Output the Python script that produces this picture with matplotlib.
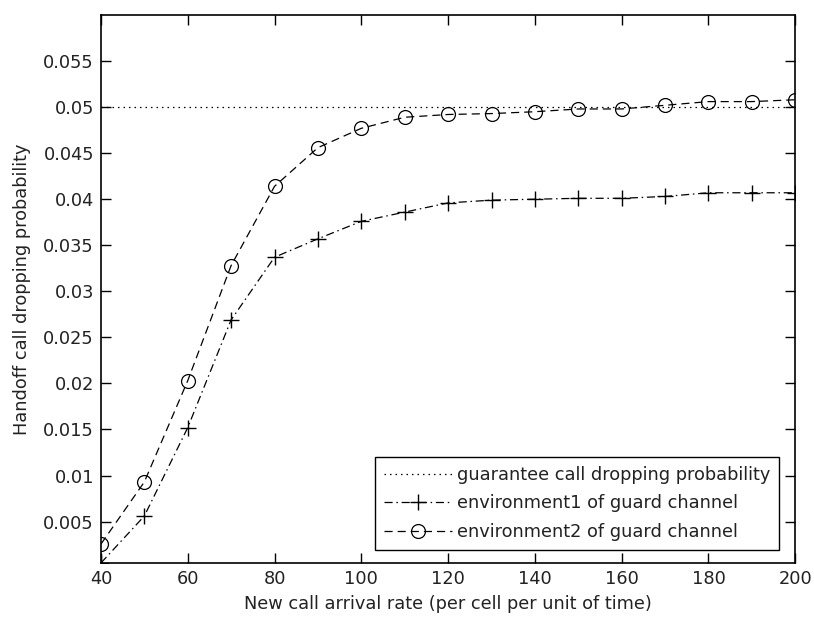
import matplotlib
matplotlib.use("Agg")
import matplotlib.pyplot as plt

plt.rcParams['font.family'] = ['DejaVu Sans']

## values
arrival_rate = [40, 50, 60, 70, 80, 90, 100, 110, 120, 130, 140, 150, 160, 170, 180, 190, 200]
env1 = [0.0005, 0.0056, 0.0152, 0.0269, 0.0337, 0.0357, 0.0376, 0.0386, 0.0396, 0.0399,
        0.0400, 0.0401, 0.0401, 0.0403, 0.0407, 0.0407, 0.0407]
env2 = [0.00255, 0.0093, 0.0203, 0.0328, 0.0414, 0.0456, 0.0477, 0.0489, 0.0492, 0.0493,
        0.0495, 0.0498, 0.0498, 0.0502, 0.0506, 0.0506, 0.0508]
guarantee = 0.05

xticks = [40, 60, 80, 100, 120, 140, 160, 180, 200]
yticks = [0.005, 0.01, 0.015, 0.02, 0.025, 0.03, 0.035, 0.04, 0.045, 0.05, 0.055]

fs = 12.8
txt = '#222222'

fig = plt.figure(figsize=(8.14, 6.21), dpi=100)
ax = fig.add_axes([0.124, 0.0934, 0.853, 0.8824])

ax.plot(arrival_rate, [guarantee]*len(arrival_rate), color='black', lw=0.9,
        dashes=(1.2, 3.2), label='guarantee call dropping probability')
ax.plot(arrival_rate, env1, color='black', lw=0.9, dashes=(6.5, 3, 1.2, 3),
        marker='+', ms=11, mew=1.0, label='environment1 of guard channel')
ax.plot(arrival_rate, env2, color='black', lw=0.9, dashes=(6.5, 4),
        marker='o', ms=10, mew=0.9, mfc='none', label='environment2 of guard channel')

ax.set_xlim(40, 200)
ax.set_ylim(0.0005, 0.06)
ax.set_xticks(xticks)
ax.set_xticklabels([str(t) for t in xticks])
ax.set_yticks(yticks)
ax.set_yticklabels(['%g' % t for t in yticks])
ax.tick_params(direction='in', top=True, right=True, length=7, width=1,
               labelsize=fs, labelcolor=txt, pad=5)
for s in ax.spines.values():
    s.set_linewidth(1.2)

ax.set_xlabel('New call arrival rate (per cell per unit of time)', fontsize=fs, color=txt, labelpad=5)
ax.set_ylabel('Handoff call dropping probability', fontsize=fs, color=txt, labelpad=9)

leg = ax.legend(loc='lower right', bbox_to_anchor=(0.977, 0.0237), borderaxespad=0,
                fontsize=fs, fancybox=False, framealpha=1, edgecolor='black',
                handlelength=3.8, handletextpad=0.3, labelspacing=0.6, borderpad=0.5)
leg.get_frame().set_linewidth(1.0)
for t in leg.get_texts():
    t.set_color(txt)

fig.savefig('out.png', dpi=100)
